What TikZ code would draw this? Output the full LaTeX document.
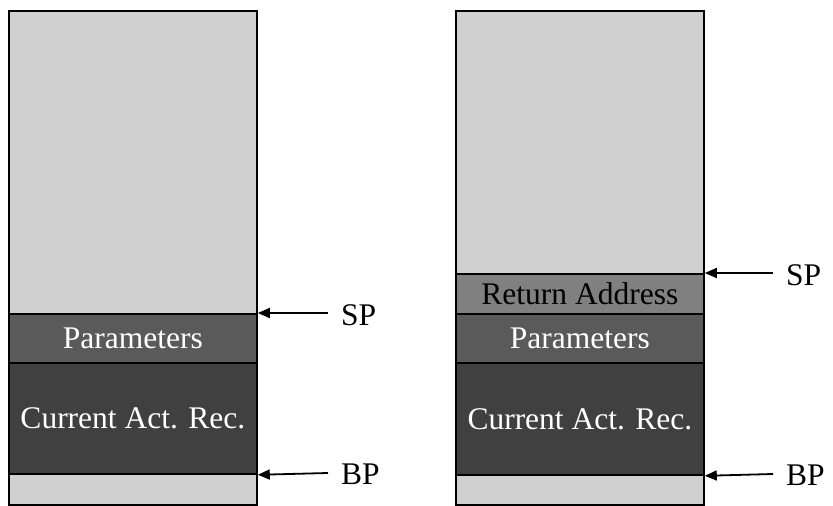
\documentclass[tikz,border=0pt]{standalone}
\usepackage{fontspec}
\setmainfont{Liberation Serif}
\usetikzlibrary{arrows.meta}
\begin{document}
\begin{tikzpicture}[x=1pt,y=-1pt,
  seg/.style={draw=black,line width=1.8pt,minimum width=248pt,inner sep=0pt,
    anchor=north west,font=\fontsize{31.5}{36}\selectfont},
  free/.style={seg,fill=freegray},
  params/.style={seg,fill=paramgray,text=white},
  actrec/.style={seg,fill=actgray,text=white},
  retaddr/.style={seg,fill=retgray,text=black},
  ptr/.style={line width=1.8pt,-{Triangle[length=12pt,width=10pt]}},
  reglabel/.style={anchor=west,inner sep=0pt,font=\fontsize{31.5}{36}\selectfont}]
\definecolor{freegray}{RGB}{208,208,208}
\definecolor{paramgray}{RGB}{90,90,90}
\definecolor{actgray}{RGB}{64,64,64}
\definecolor{retgray}{RGB}{128,128,128}
\useasboundingbox (0,0) rectangle (833,506);

% stack before the call
\node[free,minimum height=303pt] (ltop) at (8,10) {};
\node[params,minimum height=49pt] (lpar) at (8,313) {Parameters};
\node[actrec,minimum height=111pt] (lact) at (8,362) {Current Act. Rec.};
\node[free,minimum height=31pt] (lbot) at (8,473) {};

\coordinate (lspfrom) at (328,313);
\coordinate (lbpfrom) at (328,473);
\draw[ptr] (lspfrom) -- (lpar.north east);
\draw[ptr] (lbpfrom) -- (lact.south east);
\node[reglabel] (lsp) at (341,315) {SP};
\node[reglabel] (lbp) at (341,474) {BP};

% stack after the return address is pushed
\node[free,minimum height=263pt] (rtop) at (455,10) {};
\node[retaddr,minimum height=40pt] (rret) at (455,273) {Return Address};
\node[params,minimum height=49pt] (rpar) at (455,313) {Parameters};
\node[actrec,minimum height=112pt] (ract) at (455,362) {Current Act. Rec.};
\node[free,minimum height=30pt] (rbot) at (455,474) {};

\coordinate (rspfrom) at (773,273);
\coordinate (rbpfrom) at (773,474);
\draw[ptr] (rspfrom) -- (rret.north east);
\draw[ptr] (rbpfrom) -- (ract.south east);
\node[reglabel] (rsp) at (786,275) {SP};
\node[reglabel] (rbp) at (786,475) {BP};
\end{tikzpicture}
\end{document}
